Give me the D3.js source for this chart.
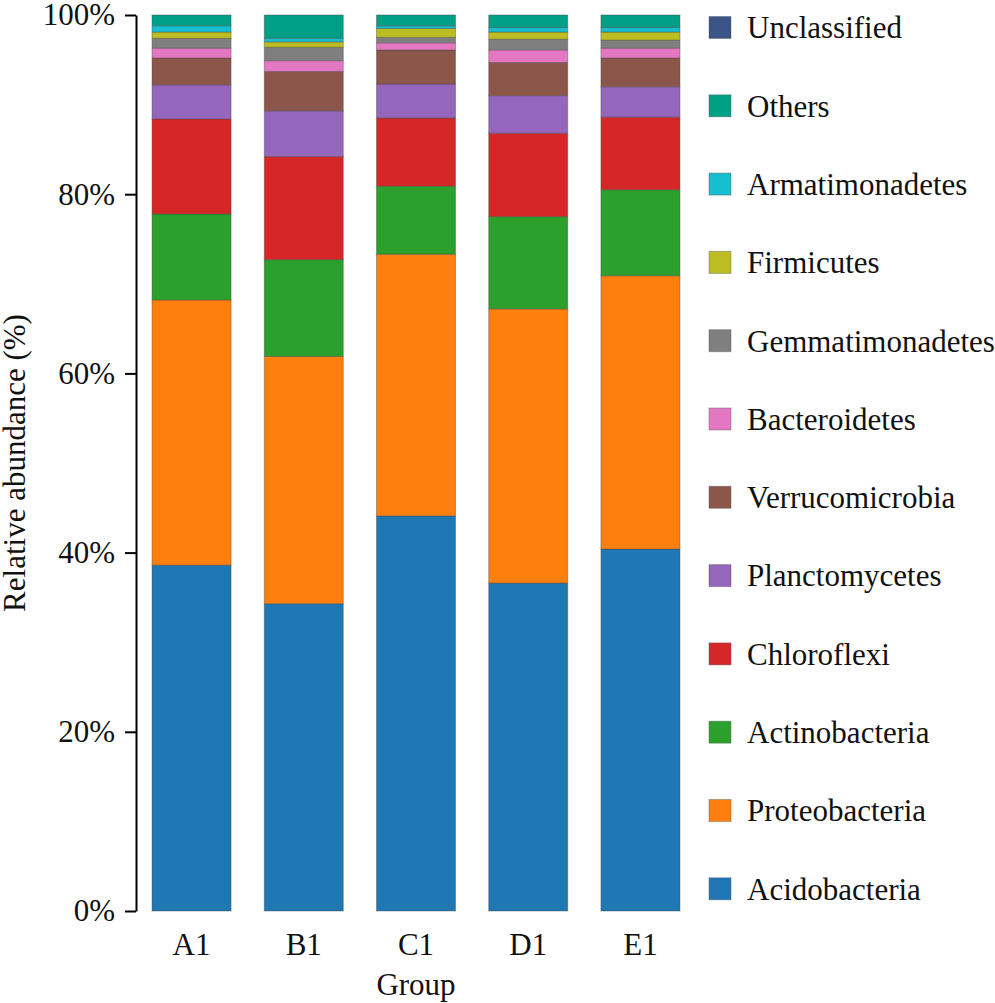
<!DOCTYPE html>
<html lang="en">
<head>
    <meta charset="UTF-8">
    <title>Relative abundance by group</title>
    <script src="https://d3js.org/d3.v7.min.js"></script>
    <style>
        body {
            margin: 0;
            padding: 0;
            background: white;
        }

        svg text {
            font-family: "Liberation Serif", "DejaVu Serif", serif !important;
            fill: #111;
        }

        .axis path,
        .axis line {
            stroke: #000;
            stroke-width: 2px;
        }

        .axis text {
            font-size: 31px;
        }

        .seg {
            stroke: #444;
            stroke-opacity: 0.4;
            stroke-width: 1px;
        }
    </style>
</head>
<body>
    <script>
        const width = 995, height = 1003;

        const groups = ["A1", "B1", "C1", "D1", "E1"];

        // stacked from bottom to top
        const phyla = ["Acidobacteria", "Proteobacteria", "Actinobacteria", "Chloroflexi",
            "Planctomycetes", "Verrucomicrobia", "Bacteroidetes", "Gemmatimonadetes",
            "Firmicutes", "Armatimonadetes", "Others", "Unclassified"];

        const colors = ["#1f77b4", "#ff7f0e", "#2ca02c", "#d62728", "#9467bd", "#8c564b",
            "#e377c2", "#7f7f7f", "#bcbd22", "#17becf", "#00a087", "#3c5488"];

        // percent values per phylum, one per group (A1..E1)
        const acidobacteria = [38.6, 34.3, 44.1, 36.6, 40.4];
        const proteobacteria = [29.6, 27.6, 29.2, 30.6, 30.5];
        const actinobacteria = [9.6, 10.8, 7.6, 10.3, 9.6];
        const chloroflexi = [10.6, 11.5, 7.6, 9.3, 8.1];
        const planctomycetes = [3.8, 5.1, 3.8, 4.2, 3.4];
        const verrucomicrobia = [3.0, 4.4, 3.8, 3.7, 3.2];
        const bacteroidetes = [1.1, 1.2, 0.8, 1.4, 1.1];
        const gemmatimonadetes = [1.1, 1.5, 0.6, 1.2, 0.9];
        const firmicutes = [0.7, 0.6, 1.0, 0.8, 0.9];
        const armatimonadetes = [0.7, 0.4, 0.3, 0.5, 0.5];
        const others = [1.2, 2.6, 1.2, 1.4, 1.4];
        const unclassified = [0, 0, 0, 0, 0];

        const yTicks = [0, 20, 40, 60, 80, 100];

        const series = [acidobacteria, proteobacteria, actinobacteria, chloroflexi,
            planctomycetes, verrucomicrobia, bacteroidetes, gemmatimonadetes,
            firmicutes, armatimonadetes, others, unclassified];

        const table = groups.map((g, i) => {
            const row = { group: g };
            phyla.forEach((p, k) => row[p] = series[k][i]);
            return row;
        });

        const svg = d3.select("body").append("svg")
            .attr("width", width)
            .attr("height", height);

        const x = d3.scaleBand()
            .domain(groups)
            .range([136, 696])
            .paddingInner(0.296)
            .paddingOuter(0.143);

        const y = d3.scaleLinear()
            .domain([0, 100])
            .range([911, 15]);

        const color = d3.scaleOrdinal().domain(phyla).range(colors);

        const stacked = d3.stack().keys(phyla)(table);

        // bars
        svg.append("g")
            .selectAll("g")
            .data(stacked)
            .enter()
            .append("g")
            .attr("fill", d => color(d.key))
            .selectAll("rect")
            .data(d => d)
            .enter()
            .append("rect")
            .attr("class", "seg")
            .attr("x", d => x(d.data.group))
            .attr("width", x.bandwidth())
            .attr("y", d => y(d[1]))
            .attr("height", d => y(d[0]) - y(d[1]));

        // y axis
        svg.append("g")
            .attr("class", "axis")
            .attr("transform", "translate(136,0)")
            .call(d3.axisLeft(y).tickValues(yTicks).tickSize(11).tickSizeOuter(0)
                .tickPadding(10).tickFormat(d => d + "%"));

        // x labels (no axis line)
        const xAxis = svg.append("g")
            .attr("class", "axis")
            .attr("transform", "translate(0,911)")
            .call(d3.axisBottom(x).tickSize(0).tickPadding(22));
        xAxis.select(".domain").remove();

        svg.append("text")
            .attr("transform", "translate(25,463) rotate(-90)")
            .attr("text-anchor", "middle")
            .style("font-size", "31px")
            .text("Relative abundance (%)");

        svg.append("text")
            .attr("x", 416)
            .attr("y", 995)
            .attr("text-anchor", "middle")
            .style("font-size", "31px")
            .text("Group");

        // legend, top to bottom in reverse stack order
        const legendItems = phyla.slice().reverse();
        const legend = svg.append("g")
            .selectAll("g")
            .data(legendItems)
            .enter()
            .append("g")
            .attr("transform", (d, i) => `translate(709,${27.5 + i * 78.3})`);

        legend.append("rect")
            .attr("x", 0)
            .attr("y", -11)
            .attr("width", 22)
            .attr("height", 22)
            .attr("fill", d => color(d))
            .attr("stroke", "#555")
            .attr("stroke-opacity", 0.4);

        legend.append("text")
            .attr("x", 38)
            .attr("y", 0)
            .attr("dy", "0.35em")
            .style("font-size", "31px")
            .text(d => d);
    </script>
</body>
</html>
